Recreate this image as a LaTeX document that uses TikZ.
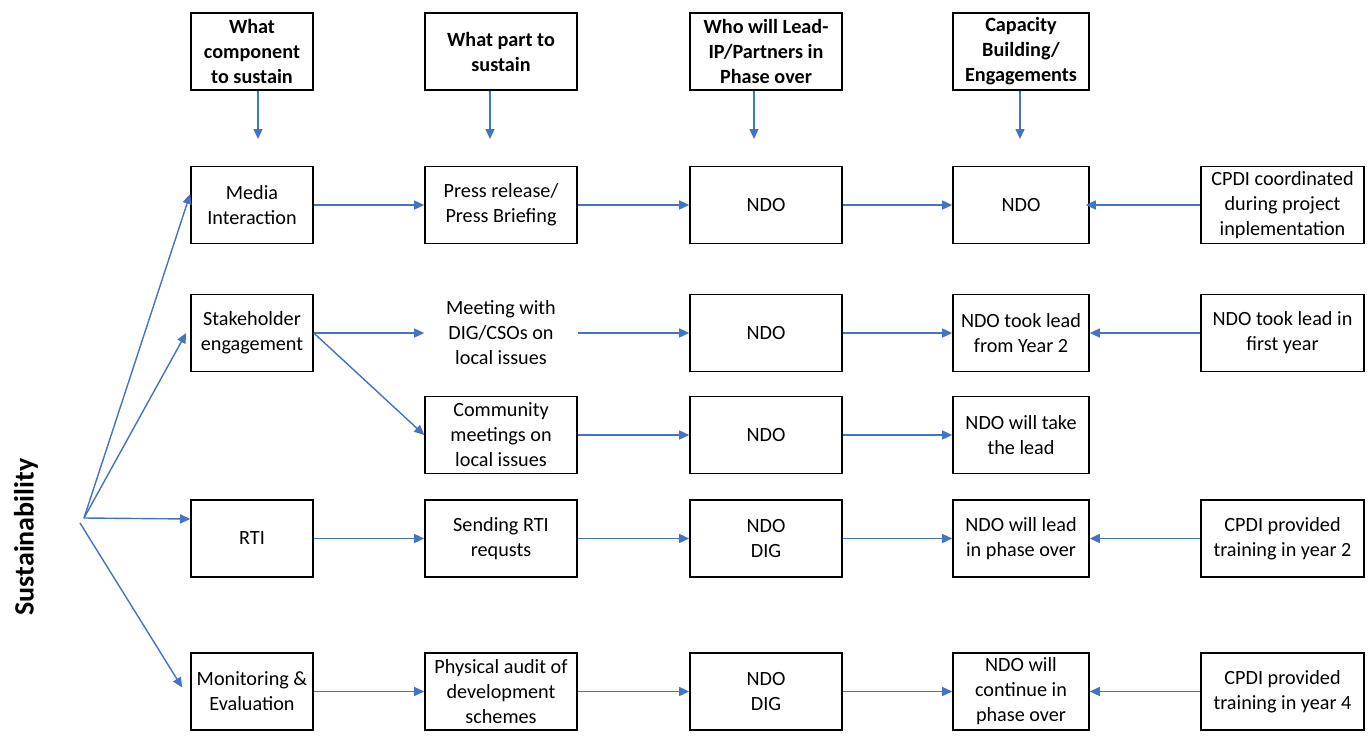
\documentclass[tikz,border=0pt]{standalone}
\usepackage{fontspec}
\setmainfont{Carlito}
\usetikzlibrary{arrows.meta}
\definecolor{arrblue}{HTML}{4472C4}
\begin{document}
\begin{tikzpicture}[x=1pt,y=-1pt,
  box/.style={draw=black,line width=1.6pt,inner sep=0pt,align=center,
    font=\fontsize{20.2}{25}\selectfont,minimum height=77pt},
  hbox/.style={box,font=\fontsize{20.2}{25}\selectfont\bfseries},
  plain/.style={box,draw=none},
  wa/.style={minimum width=122pt},
  wb/.style={minimum width=152pt},
  wc/.style={minimum width=152pt},
  wd/.style={minimum width=136pt},
  we/.style={minimum width=163pt},
  arr/.style={draw=arrblue,line width=1.4pt,-{Triangle[length=10pt,width=9pt]}}]
\useasboundingbox (0,0) rectangle (1371,739);

% headers
\node[hbox,wa] (h1) at (252,51.5) {What\\component\\to sustain};
\node[hbox,wb] (h2) at (501,51.5) {What part to\\sustain};
\node[hbox,wc] (h3) at (766,51.5) {Who will Lead-\\IP/Partners in\\Phase over};
\node[hbox,wd] (h4) at (1021,51.5) {Capacity\\Building/\\Engagements};
\coordinate (a1) at (258,139);
\coordinate (a2) at (490,139);
\coordinate (a3) at (754,139);
\coordinate (a4) at (1020,139);
\draw[arr] (h1.south -| a1) -- (a1);
\draw[arr] (h2.south -| a2) -- (a2);
\draw[arr] (h3.south -| a3) -- (a3);
\draw[arr] (h4.south -| a4) -- (a4);

% row 1
\node[box,wa] (media) at (252,205) {Media\\Interaction};
\node[box,wb] (press) at (501,205) {Press release/\\Press Briefing};
\node[box,wc] (ndo1) at (766,205) {NDO};
\node[box,wd] (cb1) at (1021,205) {NDO};
\node[box,we] (src1) at (1282.5,205) {CPDI coordinated\\during project\\inplementation};

% row 2
\node[box,wa] (stake) at (252,333) {Stakeholder\\engagement};
\node[plain,wb] (meet) at (501,333) {Meeting with\\DIG/CSOs on\\local issues};
\node[box,wc] (ndo2) at (766,333) {NDO};
\node[box,wd] (cb2) at (1021,333) {NDO took lead\\from Year 2};
\node[box,we] (src2) at (1282.5,333) {NDO took lead in\\first year};

% row 3
\node[box,wb] (comm) at (501,435) {Community\\meetings on\\local issues};
\node[box,wc] (ndo3) at (766,435) {NDO};
\node[box,wd] (cb3) at (1021,435) {NDO will take\\the lead};

% row 4
\node[box,wa] (rti) at (252,538.5) {RTI};
\node[box,wb] (send) at (501,538.5) {Sending RTI\\requsts};
\node[box,wc] (ndo4) at (766,538.5) {NDO\\DIG};
\node[box,wd] (cb4) at (1021,538.5) {NDO will lead\\in phase over};
\node[box,we] (src4) at (1282.5,538.5) {CPDI provided\\training in year 2};

% row 5
\node[box,wa] (mon) at (252,691.5) {Monitoring \&\\Evaluation};
\node[box,wb] (audit) at (501,691.5) {Physical audit of\\development\\schemes};
\node[box,wc] (ndo5) at (766,691.5) {NDO\\DIG};
\node[box,wd] (cb5) at (1021,691.5) {NDO will\\continue in\\phase over};
\node[box,we] (src5) at (1282.5,691.5) {CPDI provided\\training in year 4};

% side label
\node[rotate=90,font=\fontsize{28}{32}\selectfont\bfseries] (sus) at (26,537) {Sustainability};
\coordinate (S) at (84,518);
\coordinate (S2) at (80,523);

% fan
\draw[arr] (S) -- ([yshift=11pt]media.west);
\draw[arr] (S) -- ([xshift=-4pt]stake.west);
\draw[arr] (S) -- ([yshift=19.5pt]rti.west);
\draw[arr] (S2) -- ([xshift=-8pt,yshift=4pt]mon.west);

% row arrows
\draw[arr] (media.east) -- (press.west);
\draw[arr] (press.east) -- (ndo1.west);
\draw[arr] (ndo1.east) -- (cb1.west);
\draw[arr] (src1.west) -- ([xshift=-4pt]cb1.east);

\draw[arr] (stake.east) -- (meet.west);
\draw[arr] (stake.east) -- (comm.west);
\draw[arr] (meet.east) -- (ndo2.west);
\draw[arr] (ndo2.east) -- (cb2.west);
\draw[arr] (src2.west) -- (cb2.east);

\draw[arr] (comm.east) -- (ndo3.west);
\draw[arr] (ndo3.east) -- (cb3.west);

\draw[arr] (rti.east) -- (send.west);
\draw[arr] (send.east) -- (ndo4.west);
\draw[arr] (ndo4.east) -- (cb4.west);
\draw[arr] (src4.west) -- (cb4.east);

\draw[arr] (mon.east) -- (audit.west);
\draw[arr] (audit.east) -- (ndo5.west);
\draw[arr] (ndo5.east) -- (cb5.west);
\draw[arr] (src5.west) -- (cb5.east);
\end{tikzpicture}
\end{document}
